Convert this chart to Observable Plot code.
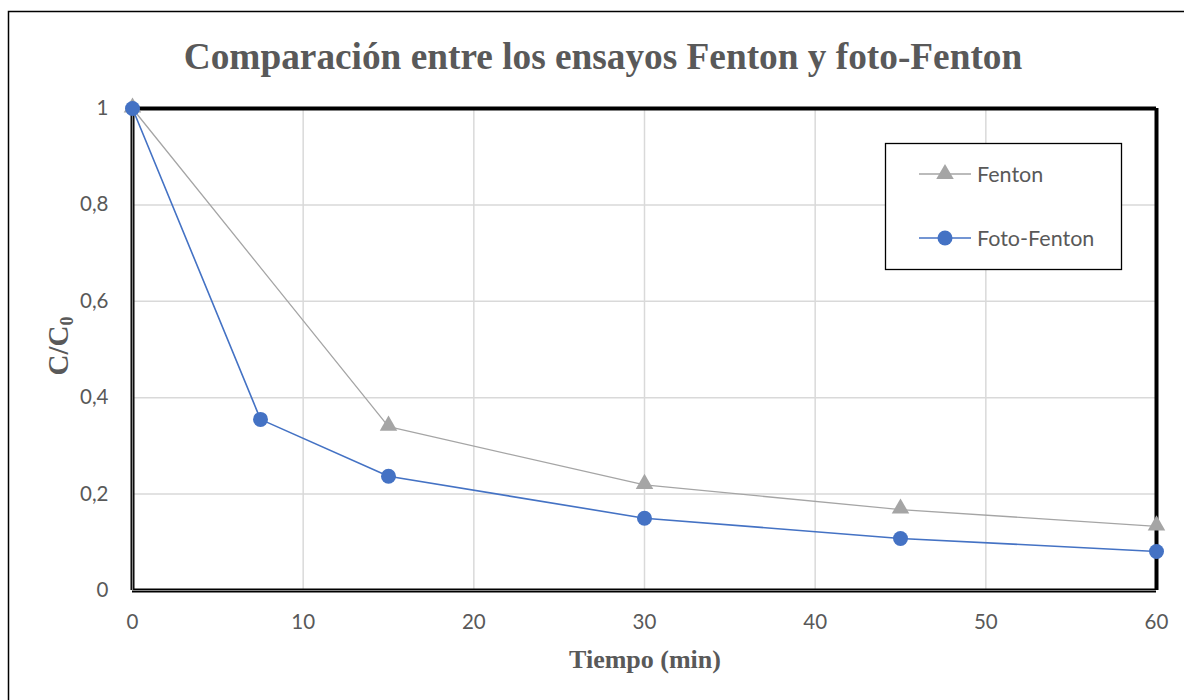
<!DOCTYPE html>
<html>
<head>
<meta charset="utf-8">
<script src="https://cdn.jsdelivr.net/npm/d3@7"></script>
<script src="https://cdn.jsdelivr.net/npm/@observablehq/plot@0.6"></script>
<style>
  body { margin: 0; background: #fff; }
  #chart { width: 1184px; height: 700px; position: relative; }
</style>
</head>
<body>
<div id="chart"></div>
<script>
const title = "Comparación entre los ensayos Fenton y foto-Fenton";
const xLabel = "Tiempo (min)";
const seriesNames = ["Fenton", "Foto-Fenton"];
const fentonTime = [0, 15, 30, 45, 60];
const fentonValues = [1, 0.340, 0.219, 0.168, 0.133];
const fotoTime = [0, 7.5, 15, 30, 45, 60];
const fotoValues = [1, 0.355, 0.237, 0.150, 0.108, 0.081];
const xTicks = [0, 10, 20, 30, 40, 50, 60];
const yTicks = [0, 0.2, 0.4, 0.6, 0.8, 1];

const fenton = fentonTime.map((t, i) => ({t, v: fentonValues[i]}));
const foto = fotoTime.map((t, i) => ({t, v: fotoValues[i]}));

const gray = "#a5a5a5";
const blue = "#4472c4";
const textColor = "#595959";
const fmt = d => String(d).replace(".", ",");

const plot = Plot.plot({
  width: 1184,
  height: 700,
  marginLeft: 132,
  marginRight: 28,
  marginTop: 108,
  marginBottom: 110,
  style: {background: "#fff", fontFamily: "Lato, 'Open Sans', sans-serif", fontSize: "20px", color: textColor, overflow: "visible"},
  x: {domain: [0, 60], ticks: xTicks, label: null},
  y: {domain: [0, 1], ticks: yTicks, label: null, tickFormat: fmt},
  marks: [
    Plot.gridX(xTicks, {stroke: "#d9d9d9", strokeOpacity: 1, strokeWidth: 1.5}),
    Plot.gridY(yTicks, {stroke: "#d9d9d9", strokeOpacity: 1, strokeWidth: 1.5}),
    Plot.axisX({ticks: xTicks, tickSize: 0, tickPadding: 24, fill: textColor, fontSize: 20.5, label: null}),
    Plot.axisY({ticks: yTicks, tickSize: 0, tickPadding: 24, fill: textColor, fontSize: 20.5, label: null, tickFormat: fmt}),
    Plot.ruleY([1], {stroke: "#000", strokeWidth: 4}),
    Plot.ruleX([60], {stroke: "#000", strokeWidth: 4}),
    Plot.ruleX([0], {stroke: "#000", strokeWidth: 4}),
    Plot.ruleY([0], {stroke: "#000", strokeWidth: 4}),
    Plot.ruleX([0], {stroke: "#888", strokeWidth: 1.2}),
    Plot.ruleY([0], {stroke: "#888", strokeWidth: 1.2}),
    Plot.line(fenton, {x: "t", y: "v", stroke: gray, strokeWidth: 1.3}),
    Plot.dot(fenton, {x: "t", y: "v", symbol: "triangle", r: 6.5, fill: gray, stroke: "none", dy: -1}),
    Plot.line(foto, {x: "t", y: "v", stroke: blue, strokeWidth: 1.6}),
    Plot.dot(foto, {x: "t", y: "v", r: 7.5, fill: blue, stroke: "none"})
  ]
});

document.getElementById("chart").appendChild(plot);

const svg = d3.select(plot);
// outer chart frame (continues beyond the photographed area)
svg.insert("rect", ":first-child")
  .attr("x", 8.5).attr("y", 11.5).attr("width", 1300).attr("height", 900)
  .attr("fill", "none").attr("stroke", "#000").attr("stroke-width", 1.5);

svg.append("text")
  .attr("x", 603).attr("y", 69)
  .attr("text-anchor", "middle")
  .attr("font-family", "'Liberation Serif', 'Times New Roman', serif")
  .attr("font-weight", "bold").attr("font-size", 37.3)
  .attr("fill", textColor)
  .text(title);

svg.append("text")
  .attr("x", 645).attr("y", 668)
  .attr("text-anchor", "middle")
  .attr("font-family", "'Liberation Serif', 'Times New Roman', serif")
  .attr("font-weight", "bold").attr("font-size", 26)
  .attr("fill", textColor)
  .text(xLabel);

const yl = svg.append("text")
  .attr("transform", "translate(68,346) rotate(-90)")
  .attr("text-anchor", "middle")
  .attr("font-family", "'Liberation Serif', 'Times New Roman', serif")
  .attr("font-weight", "bold").attr("font-size", 29)
  .attr("fill", textColor);
yl.append("tspan").text("C/C");
yl.append("tspan").attr("font-size", 18).attr("dy", 5).text("0");

// legend
const lg = svg.append("g").attr("transform", "translate(885,143)");
lg.append("rect").attr("x", 0.5).attr("y", 0.5).attr("width", 236).attr("height", 126)
  .attr("fill", "#fff").attr("stroke", "#000").attr("stroke-width", 1.3);
const entries = [
  {name: seriesNames[0], color: gray, sym: d3.symbolTriangle, size: 6.5 * 6.5 * Math.PI, y: 31, w: 1.3},
  {name: seriesNames[1], color: blue, sym: d3.symbolCircle, size: 7.5 * 7.5 * Math.PI, y: 95, w: 1.6}
];
entries.forEach(e => {
  lg.append("line").attr("x1", 34).attr("x2", 86).attr("y1", e.y).attr("y2", e.y)
    .attr("stroke", e.color).attr("stroke-width", e.w);
  lg.append("path").attr("d", d3.symbol(e.sym, e.size)())
    .attr("transform", `translate(60,${e.y})`).attr("fill", e.color);
  lg.append("text").attr("x", 92).attr("y", e.y).attr("dy", "0.35em")
    .attr("text-anchor", "start")
    .attr("font-family", "Lato, 'Open Sans', sans-serif").attr("font-size", 21.5)
    .attr("fill", textColor).text(e.name);
});
</script>
</body>
</html>
